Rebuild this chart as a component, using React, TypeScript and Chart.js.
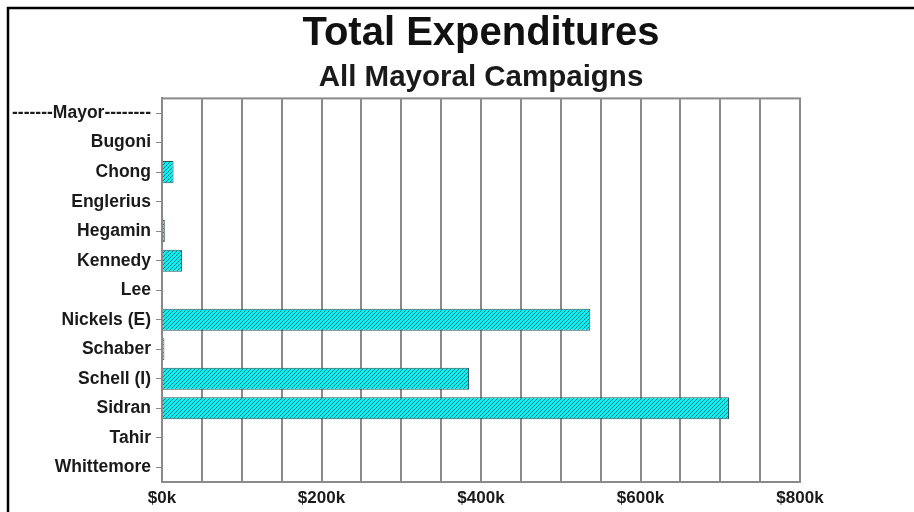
import React, { useEffect, useRef } from 'react';
import { Chart, registerables } from 'chart.js';

Chart.register(...registerables);

const titleText = 'Total Expenditures';
const subtitleText = 'All Mayoral Campaigns';

const categories = [
  '-------Mayor--------',
  'Bugoni',
  'Chong',
  'Englerius',
  'Hegamin',
  'Kennedy',
  'Lee',
  'Nickels (E)',
  'Schaber',
  'Schell (I)',
  'Sidran',
  'Tahir',
  'Whittemore',
];

const expenditures = [0, 0, 14500, 0, 3500, 25000, 1200, 537000, 3000, 385000, 711000, 0, 0];

const xMin = 0;
const xMax = 800000;
const xStep = 50000;
const xLabelEvery = 200000;

const FONT = '"Liberation Sans", Arial, sans-serif';
const GRID = '#8a8a8a';

function makeHatch(): CanvasPattern | string {
  const s = 4;
  const c = document.createElement('canvas');
  c.width = s;
  c.height = s;
  const g = c.getContext('2d');
  if (!g) return '#10eeee';
  g.fillStyle = '#0ff0f0';
  g.fillRect(0, 0, s, s);
  g.strokeStyle = 'rgba(0,105,115,0.85)';
  g.lineWidth = 1;
  g.beginPath();
  g.moveTo(-1, s + 1);
  g.lineTo(s + 1, -1);
  g.moveTo(-1, 1);
  g.lineTo(1, -1);
  g.moveTo(s - 1, s + 1);
  g.lineTo(s + 1, s - 1);
  g.stroke();
  return g.createPattern(c, 'repeat') || '#10eeee';
}

const framePlugin = {
  id: 'frame',
  beforeDatasetsDraw(chart: any) {
    const { ctx, chartArea } = chart;
    ctx.save();
    ctx.strokeStyle = GRID;
    ctx.lineWidth = 2;
    ctx.strokeRect(chartArea.left, chartArea.top, chartArea.right - chartArea.left, chartArea.bottom - chartArea.top);
    ctx.restore();
  },
  afterDraw(chart: any) {
    const { ctx } = chart;
    ctx.save();
    ctx.strokeStyle = '#000';
    ctx.lineWidth = 2.5;
    ctx.beginPath();
    ctx.moveTo(8, 512);
    ctx.lineTo(8, 8);
    ctx.lineTo(914, 8);
    ctx.stroke();
    ctx.restore();
  },
};

export default function App() {
  const ref = useRef<HTMLCanvasElement | null>(null);

  useEffect(() => {
    if (!ref.current) return;
    const chart = new Chart(ref.current, {
      type: 'bar',
      data: {
        labels: categories,
        datasets: [
          {
            label: 'Total Expenditures',
            data: expenditures,
            backgroundColor: makeHatch() as any,
            borderColor: '#2a5555',
            borderWidth: 1,
            barPercentage: 0.75,
            categoryPercentage: 1,
          },
        ],
      },
      options: {
        indexAxis: 'y',
        animation: false,
        responsive: false,
        maintainAspectRatio: false,
        layout: { padding: { top: 0, left: 0, right: 114, bottom: 0 } },
        plugins: {
          legend: { display: false },
          tooltip: { enabled: false },
          title: {
            display: true,
            fullSize: false,
            text: titleText,
            color: '#111',
            font: { family: FONT, size: 40, weight: 'bold', lineHeight: 1.2 },
            padding: { top: 10, bottom: 0 },
          },
          subtitle: {
            display: true,
            fullSize: false,
            text: subtitleText,
            color: '#1a1a1a',
            font: { family: FONT, size: 29.5, weight: 'bold', lineHeight: 1.2 },
            padding: { top: 2, bottom: 3 },
          },
        },
        scales: {
          x: {
            type: 'linear',
            min: xMin,
            max: xMax,
            afterFit(scale: any) {
              scale.height = 30;
            },
            ticks: {
              stepSize: xStep,
              autoSkip: false,
              maxRotation: 0,
              padding: 6,
              color: '#1a1a1a',
              font: { family: FONT, size: 17, weight: 'bold' },
              callback: (v: any) => (Number(v) % xLabelEvery === 0 ? `$${Number(v) / 1000}k` : ''),
            },
            grid: {
              color: GRID,
              lineWidth: 2,
              drawTicks: false,
            },
            border: { display: true, color: GRID, width: 2 },
          },
          y: {
            type: 'category',
            position: 'left',
            offset: true,
            afterFit(scale: any) {
              scale.width = 162;
            },
            ticks: {
              padding: 5,
              color: '#1a1a1a',
              font: { family: FONT, size: 17.5, weight: 'bold' },
              autoSkip: false,
            },
            grid: {
              drawOnChartArea: false,
              drawTicks: true,
              tickLength: 6,
              color: GRID,
              lineWidth: 1,
              offset: false,
            },
            border: { display: true, color: GRID, width: 2 },
          },
        },
      },
      plugins: [framePlugin],
    });
    return () => chart.destroy();
  }, []);

  return (
    <div style={{ position: 'absolute', left: 0, top: 0, width: 914, height: 512, background: '#fff' }}>
      <canvas ref={ref} width={914} height={512} style={{ display: 'block' }} />
    </div>
  );
}
